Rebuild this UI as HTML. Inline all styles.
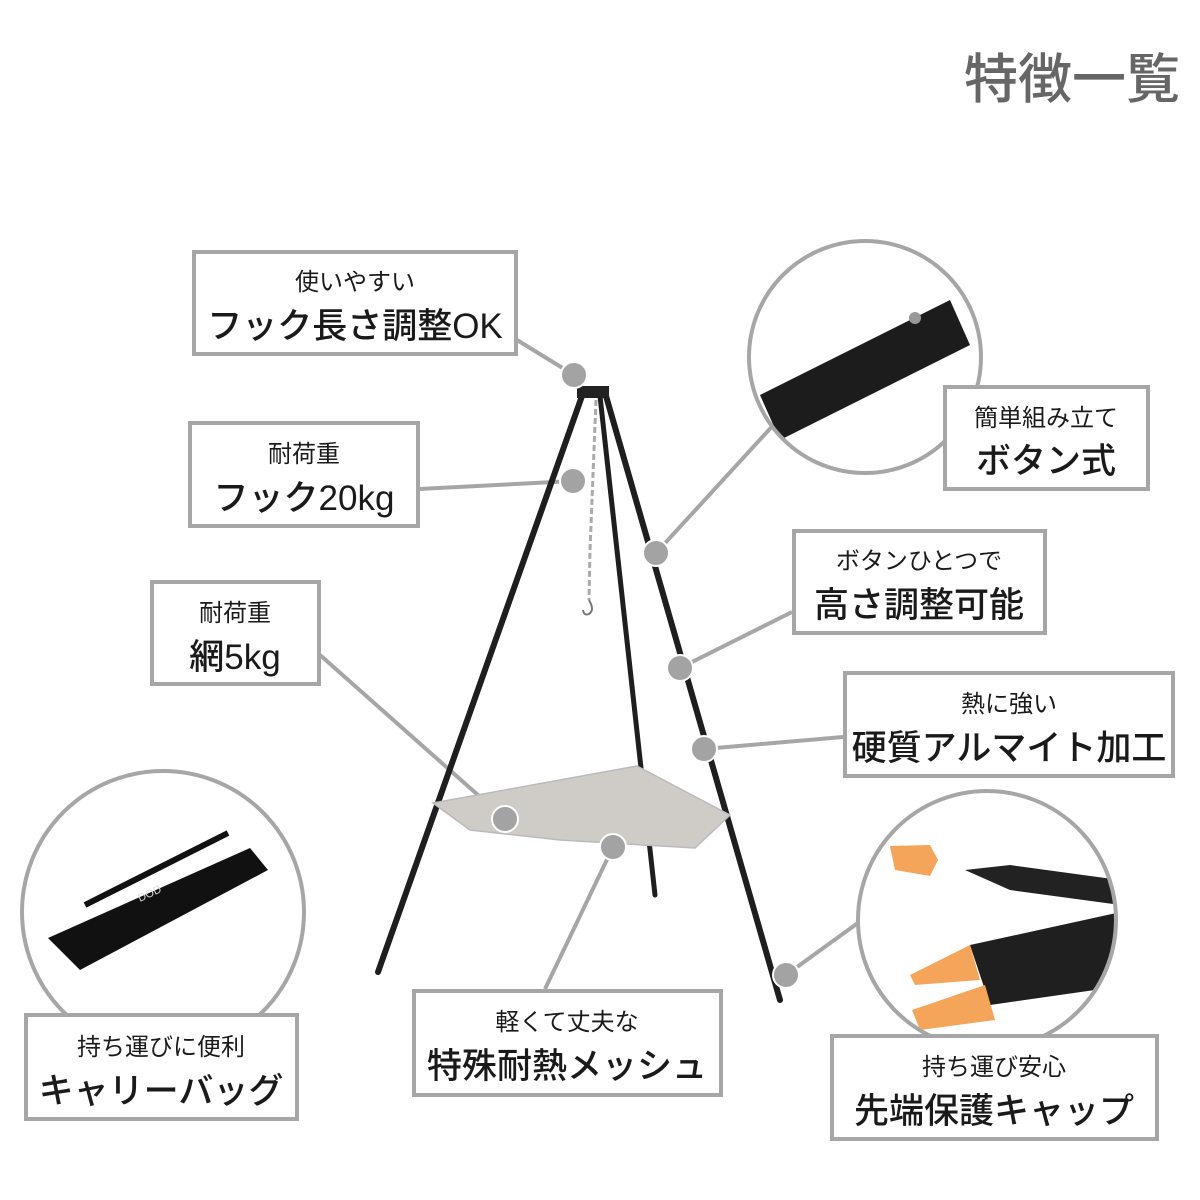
<!DOCTYPE html>
<html><head><meta charset="utf-8"><style>
html,body{margin:0;padding:0;background:#fff}
svg{display:block}
text{font-family:"Liberation Sans","Noto Sans CJK JP",sans-serif;fill:#1a1a1a}
.b{font-weight:500}
</style></head><body>
<svg width="1200" height="1200" viewBox="0 0 1200 1200" xmlns="http://www.w3.org/2000/svg">
<rect width="1200" height="1200" fill="#fff"/>
<text x="1180" y="98" text-anchor="end" font-size="54" class="b" style="fill:#666">特徴一覧</text>

<!-- connectors -->
<g stroke="#a6a6a6" stroke-width="4" fill="none">
<line x1="517" y1="340" x2="574" y2="375"/>
<line x1="419" y1="489" x2="573" y2="481"/>
<line x1="320" y1="655" x2="505" y2="819"/>
<line x1="778" y1="420" x2="656" y2="553"/>
<line x1="792" y1="612" x2="680" y2="668"/>
<line x1="843" y1="737" x2="704" y2="749"/>
<line x1="545" y1="989" x2="613" y2="847"/>
<line x1="862" y1="920" x2="786" y2="975"/>
</g>

<!-- tripod -->
<g stroke="#1e1e1e" stroke-linecap="round" fill="none">
<line x1="582" y1="396" x2="378" y2="972" stroke-width="6"/>
<line x1="600" y1="396" x2="655" y2="895" stroke-width="5"/>
<line x1="606" y1="396" x2="780" y2="1000" stroke-width="6"/>
</g>
<rect x="577" y="386" width="32" height="12" fill="#222"/>
<polyline points="596,400 594,450 592,500 590,550 589,600" stroke="#aaa" stroke-width="3" stroke-dasharray="6,3" fill="none"/>
<path d="M589 600 q6 10 0 14 q-5 2 -6 -4" stroke="#777" stroke-width="2" fill="none"/>
<polygon points="433,803 637,766 730,815 695,848 560,840 470,830" fill="#cfccc8" stroke="#bbb" stroke-width="1.5"/>

<!-- dots -->
<g fill="#a3a3a3" stroke="#fff" stroke-width="2">
<circle cx="574" cy="375" r="13"/>
<circle cx="573" cy="481" r="13"/>
<circle cx="656" cy="553" r="13"/>
<circle cx="680" cy="668" r="13"/>
<circle cx="704" cy="749" r="13"/>
<circle cx="505" cy="819" r="13"/>
<circle cx="613" cy="847" r="13"/>
<circle cx="786" cy="975" r="13"/>
</g>

<!-- circles -->
<circle cx="865" cy="357" r="116" fill="#fff" stroke="#a6a6a6" stroke-width="4"/>
<clipPath id="c1"><circle cx="865" cy="357" r="114"/></clipPath>
<g clip-path="url(#c1)">
<path d="M760 395 L950 300 L970 345 L780 440 Z" fill="#1c1c1c"/>
<circle cx="915" cy="318" r="6" fill="#999"/>
</g>

<circle cx="163" cy="912" r="141" fill="#fff" stroke="#a6a6a6" stroke-width="4"/>
<clipPath id="c2"><circle cx="163" cy="912" r="139"/></clipPath>
<g clip-path="url(#c2)">
<path d="M48 938 L250 848 L268 870 L80 970 Z" fill="#111"/>
<path d="M85 905 L228 833" stroke="#111" stroke-width="6" fill="none"/>
<text x="140" y="902" font-size="11" style="fill:#ddd" transform="rotate(-25 140 902)">DOD</text>
</g>

<circle cx="987" cy="920" r="129" fill="#fff" stroke="#a6a6a6" stroke-width="4"/>
<clipPath id="c3"><circle cx="987" cy="920" r="127"/></clipPath>
<g clip-path="url(#c3)">
<path d="M890 846 L930 845 L938 860 L930 876 L895 870 Z" fill="#f5a55a"/>
<path d="M965 870 L1010 865 L1120 880 L1120 905 L1010 890 Z" fill="#222"/>
<path d="M970 945 L1130 910 L1130 985 L990 1005 Z" fill="#1f1f1f"/>
<path d="M910 975 L970 945 L980 980 L915 985 Z" fill="#f5a55a"/>
<path d="M912 1010 L985 985 L995 1020 L920 1030 Z" fill="#f5a55a"/>
</g>

<!-- boxes -->
<g fill="#fff" stroke="#a6a6a6" stroke-width="4">
<rect x="194" y="252" width="322" height="102"/>
<rect x="190" y="423" width="228" height="103"/>
<rect x="152" y="582" width="167" height="102"/>
<rect x="945" y="387" width="203" height="102"/>
<rect x="794" y="531" width="251" height="102"/>
<rect x="845" y="673" width="328" height="103"/>
<rect x="26" y="1015" width="271" height="104"/>
<rect x="414" y="991" width="307" height="104"/>
<rect x="832" y="1036" width="325" height="103"/>
</g>
<g text-anchor="middle">
<text x="355" y="290" font-size="24">使いやすい</text>
<text x="355" y="338" font-size="35" class="b">フック長さ調整OK</text>
<text x="304" y="462" font-size="24">耐荷重</text>
<text x="304" y="510" font-size="35" class="b">フック20kg</text>
<text x="235" y="621" font-size="24">耐荷重</text>
<text x="235" y="669" font-size="35" class="b">網5kg</text>
<text x="1046" y="426" font-size="24">簡単組み立て</text>
<text x="1046" y="473" font-size="35" class="b">ボタン式</text>
<text x="919" y="569" font-size="24">ボタンひとつで</text>
<text x="919" y="617" font-size="35" class="b">高さ調整可能</text>
<text x="1009" y="712" font-size="24">熱に強い</text>
<text x="1009" y="760" font-size="35" class="b">硬質アルマイト加工</text>
<text x="161" y="1055" font-size="24">持ち運びに便利</text>
<text x="161" y="1103" font-size="35" class="b">キャリーバッグ</text>
<text x="567" y="1030" font-size="24">軽くて丈夫な</text>
<text x="567" y="1078" font-size="35" class="b">特殊耐熱メッシュ</text>
<text x="994" y="1075" font-size="24">持ち運び安心</text>
<text x="994" y="1123" font-size="35" class="b">先端保護キャップ</text>
</g>
</svg>
</body></html>
